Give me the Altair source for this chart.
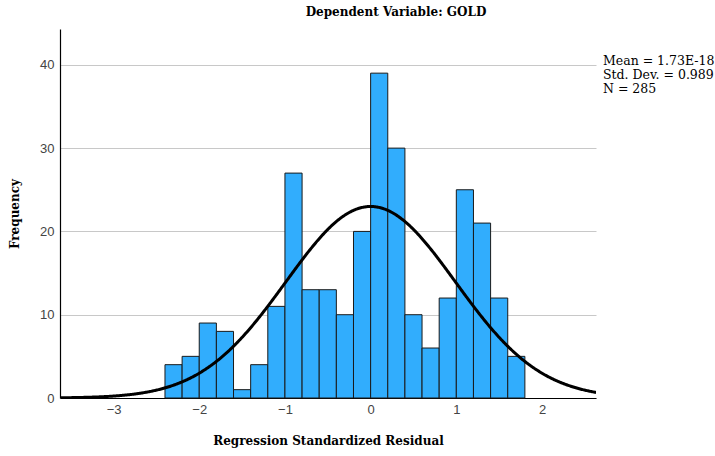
import altair as alt
import pandas as pd

# Histogram of regression standardized residuals (bin width 0.2)
bin_start = [-2.4, -2.2, -2.0, -1.8, -1.6, -1.4, -1.2, -1.0, -0.8, -0.6, -0.4,
             -0.2, 0.0, 0.2, 0.4, 0.6, 0.8, 1.0, 1.2, 1.4, 1.6]
frequency = [4, 5, 9, 8, 1, 4, 11, 27, 13, 13, 10, 20, 39, 30, 10, 6, 12, 25, 21, 12, 5]
bin_width = 0.2

# Summary statistics of the residuals
mean_val = 1.73e-18
std_dev = 0.989
n_obs = 285
stats_lines = ["Mean = 1.73E-18", "Std. Dev. = 0.989", "N = 285"]

x_domain = [-3.625, 2.63]
y_domain = [0, 44.3]

SERIF = "DejaVu Serif"
SANS = "Liberation Sans"

bars_df = pd.DataFrame({
    "start": bin_start,
    "end": [round(s + bin_width, 2) for s in bin_start],
    "count": frequency,
})

x_scale = alt.Scale(domain=x_domain, nice=False, zero=False)
y_scale = alt.Scale(domain=y_domain, nice=False)

x_axis = alt.Axis(
    title="Regression Standardized Residual",
    values=[-3, -2, -1, 0, 1, 2], format="d",
    grid=False, ticks=False, domainColor="black", domainWidth=1.2,
    labelFont=SANS, labelFontSize=13, labelColor="#444", labelPadding=5,
    titleFont=SERIF, titleFontSize=12, titleFontWeight="bold", titleColor="black",
    titleY=42, titleBaseline="middle",
)
y_axis = alt.Axis(
    title="Frequency",
    values=[0, 10, 20, 30, 40],
    grid=True, gridColor="#c8c8c8", gridWidth=1,
    ticks=False, domainColor="black", domainWidth=1.2,
    labelFont=SANS, labelFontSize=13, labelColor="#444", labelPadding=6,
    titleFont=SERIF, titleFontSize=12, titleFontWeight="bold", titleColor="black",
    titleX=-46, titleY=184.5, titleAlign="center", titleBaseline="middle",
)

bars = alt.Chart(bars_df).mark_rect(
    color="#31adfd", stroke="#1a1a1a", strokeWidth=1
).encode(
    x=alt.X("start:Q", scale=x_scale, axis=x_axis),
    x2="end:Q",
    y=alt.Y("count:Q", scale=y_scale, axis=y_axis),
    y2=alt.datum(0),
)

# Fitted normal curve scaled to counts: N * bin width * pdf(x; mean, sd)
curve = alt.Chart(
    alt.sequence(start=x_domain[0], stop=x_domain[1] + 0.01, step=0.01, as_="x")
).transform_calculate(
    y=f"{n_obs} * {bin_width} * densityNormal(datum.x, {mean_val}, {std_dev})"
).mark_line(color="black", strokeWidth=3, clip=True).encode(
    x=alt.X("x:Q", scale=x_scale),
    y=alt.Y("y:Q", scale=y_scale),
)

stats = alt.Chart(pd.DataFrame({"t": ["\n".join(stats_lines)]})).mark_text(
    align="left", baseline="top", font=SERIF, fontSize=12.5, color="black",
    lineBreak="\n", lineHeight=14,
).encode(
    x=alt.value(543), y=alt.value(26), text="t:N"
)

chart = alt.layer(bars, curve, stats).properties(
    width=536, height=369,
    background="white",
    title=alt.TitleParams(
        "Dependent Variable: GOLD", font=SERIF, fontSize=12, fontWeight="bold",
        color="black", anchor="middle", dx=68, offset=10,
    ),
    autosize=alt.AutoSizeParams(type="none"),
    padding={"left": 60, "top": 29, "right": 119, "bottom": 58},
).configure_view(stroke=None)

chart.save("out.html", embed_options={"renderer": "svg", "actions": False})
